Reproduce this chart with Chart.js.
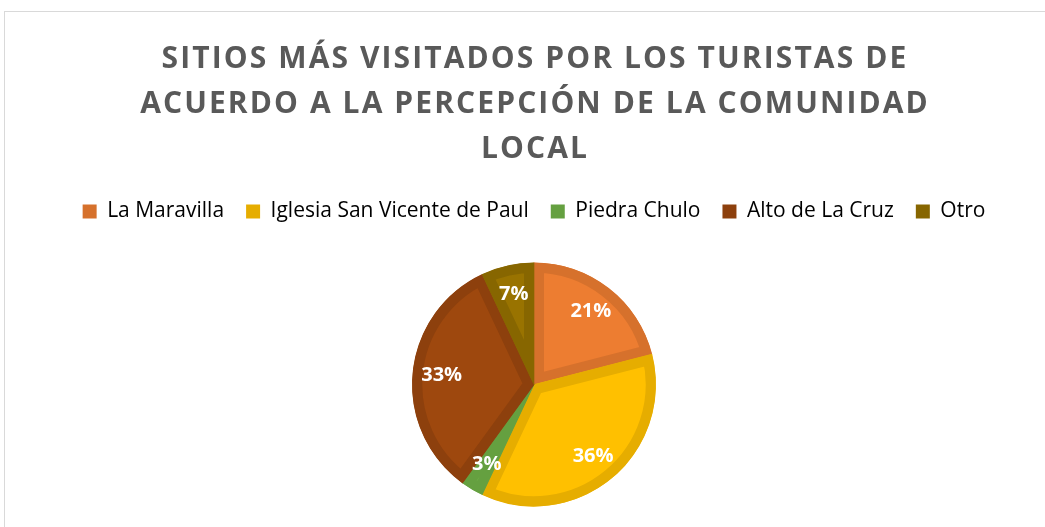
<!DOCTYPE html>
<html>
<head>
<meta charset="utf-8">
<script src="https://cdn.jsdelivr.net/npm/chart.js@4.4.0/dist/chart.umd.min.js"></script>
<style>
	html, body { margin: 0; padding: 0; background: #fff; overflow: hidden; }
	#wrap { position: absolute; left: 0; top: 0; width: 1045px; height: 527px; overflow: hidden; }
	#frame { position: absolute; left: 4px; top: 11px; width: 1100px; height: 600px; border: 1px solid #d9d9d9; }
	#statPie { position: absolute; left: 0; top: 0; }
</style>
</head>
<body>
<div id="wrap">
	<div id="frame"></div>
	<canvas id="statPie" width="1045" height="600"></canvas>
</div>
<script>
	'use strict';

	var titleLines = ['SITIOS MÁS VISITADOS POR LOS TURISTAS DE', 'ACUERDO A LA PERCEPCIÓN DE LA COMUNIDAD', 'LOCAL'];
	var sites = ['La Maravilla', 'Iglesia San Vicente de Paul', 'Piedra Chulo', 'Alto de La Cruz', 'Otro'];
	var shares = [21, 36, 3, 33, 7];
	var fillColors = ['#ed7d31', '#ffc000', '#70ad47', '#9e480e', '#997300'];
	var edgeColors = ['#d6712c', '#e6ad00', '#65a040', '#8d400d', '#876600'];

	var titleSize = 30;
	var titleLineHeight = 1.5;

	// title drawn by hand so it can get the wide letter spacing of the original
	var spacedTitle = {
		id: 'spacedTitle',
		afterDraw: function(chart){
			var box = chart.titleBlock;
			if(!box){
				return;
			}
			var ctx = chart.ctx;
			var lh = titleSize * titleLineHeight;
			var cx = (box.left + box.right) / 2;
			ctx.save();
			ctx.font = 'bold ' + titleSize + 'px "Open Sans"';
			ctx.letterSpacing = '2.1px';
			ctx.fillStyle = '#595959';
			ctx.textAlign = 'center';
			ctx.textBaseline = 'middle';
			titleLines.forEach(function(line, i){
				ctx.fillText(line, cx + 1, box.top + 36 + lh * (i + 0.5) + 1);
			});
			ctx.restore();
		}
	};

	// white percentage labels inside each slice
	var sliceLabels = {
		id: 'sliceLabels',
		afterDatasetsDraw: function(chart){
			var ctx = chart.ctx;
			var meta = chart.getDatasetMeta(0);
			var data = chart.data.datasets[0].data;
			ctx.save();
			ctx.font = 'bold 20px "Open Sans"';
			ctx.fillStyle = '#ffffff';
			ctx.textAlign = 'center';
			ctx.textBaseline = 'middle';
			meta.data.forEach(function(arc, i){
				var mid = (arc.startAngle + arc.endAngle) / 2;
				var r = arc.outerRadius * 0.76;
				ctx.fillText(data[i] + '%', arc.x + Math.cos(mid) * r, arc.y + Math.sin(mid) * r);
			});
			ctx.restore();
		}
	};

	var pieChartEl = new Chart(document.getElementById('statPie').getContext('2d'), {
		type: 'pie',
		data: {
			labels: sites,
			datasets: [{
				data: shares,
				backgroundColor: fillColors,
				borderColor: edgeColors,
				borderWidth: 10,
				borderAlign: 'inner',
				borderJoinStyle: 'miter',
				radius: 122
			}]
		},
		options: {
			responsive: false,
			animation: false,
			layout: { padding: { left: 23, bottom: 63 } },
			plugins: {
				title: {
					display: true,
					text: titleLines,
					color: 'rgba(0,0,0,0)',
					font: { family: 'Open Sans', size: titleSize, weight: 'bold', lineHeight: titleLineHeight },
					padding: { top: 36, bottom: 8 }
				},
				legend: {
					position: 'top',
					labels: {
						color: '#595959',
						font: { family: 'Open Sans', size: 21 },
						boxWidth: 14,
						boxHeight: 14,
						padding: 22,
						generateLabels: function(chart){
							return sites.map(function(s, i){
								return { text: s, fillStyle: edgeColors[i], strokeStyle: edgeColors[i], lineWidth: 0, index: i };
							});
						}
					}
				},
				tooltip: { enabled: false }
			}
		},
		plugins: [sliceLabels, spacedTitle]
	});
</script>
</body>
</html>
